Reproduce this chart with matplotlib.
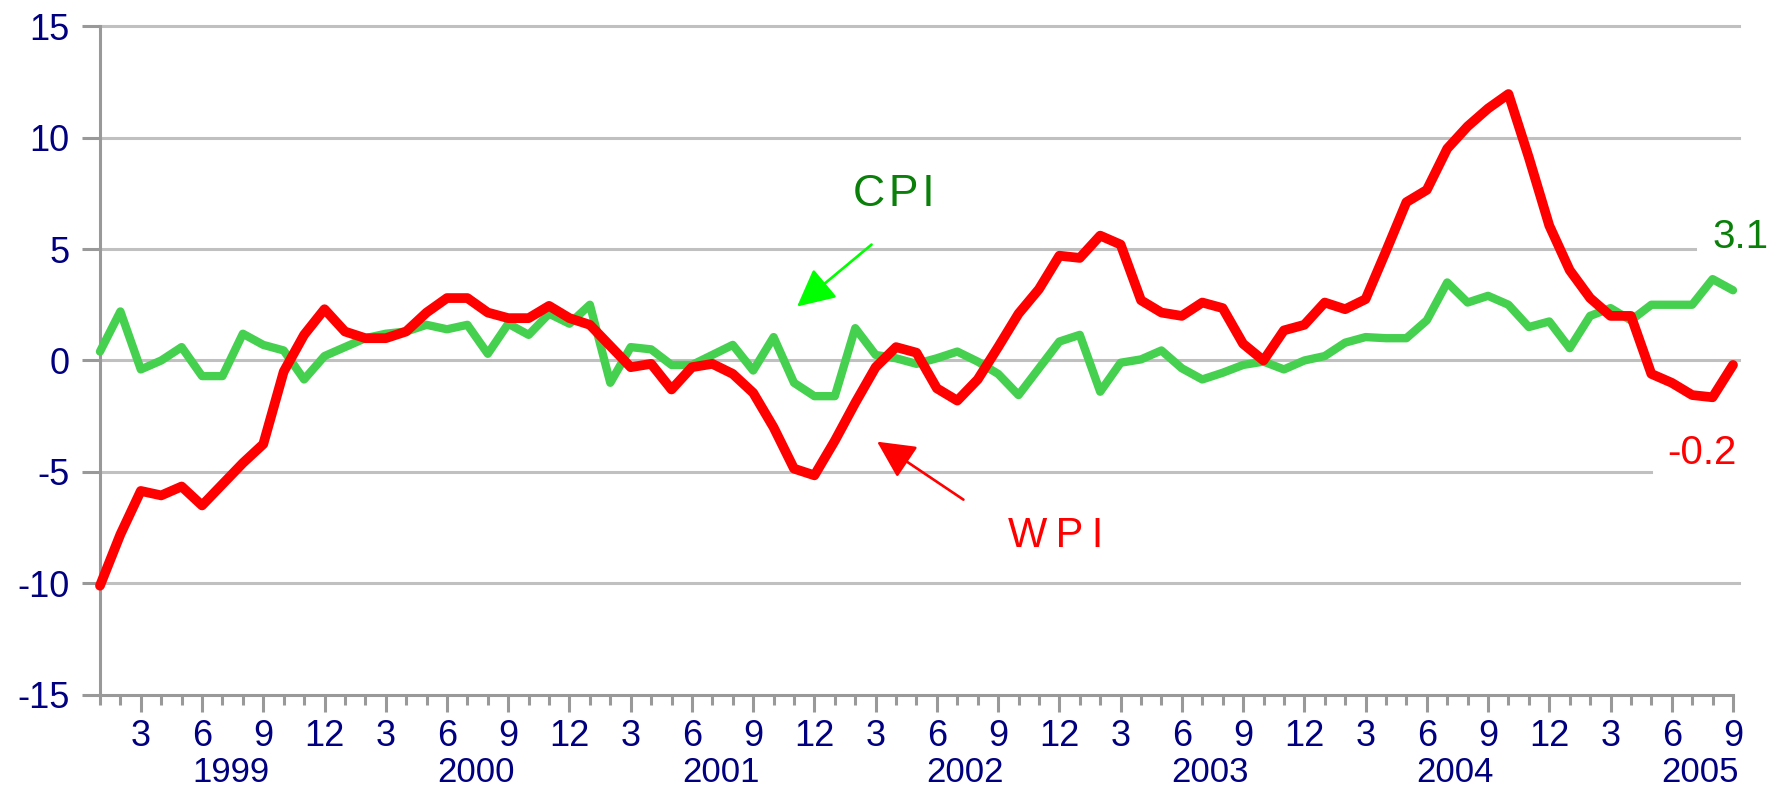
import numpy as np
import matplotlib
matplotlib.use("Agg")
import matplotlib.pyplot as plt

plt.rcParams['font.family'] = ['Liberation Sans', 'DejaVu Sans']

# monthly data, Jan 1999 - Sep 2005 (y/y %)
years = [1999, 2000, 2001, 2002, 2003, 2004, 2005]
wpi = [-10.1, -7.8, -5.85, -6.05, -5.65, -6.5, -5.55, -4.6, -3.75, -0.5, 1.15, 2.3,
       1.3, 1.0, 1.0, 1.3, 2.15, 2.8, 2.8, 2.15, 1.9, 1.9, 2.45, 1.9,
       1.6, 0.65, -0.3, -0.15, -1.3, -0.3, -0.15, -0.6, -1.45, -3.0, -4.85, -5.15,
       -3.6, -1.9, -0.3, 0.6, 0.35, -1.25, -1.8, -0.85, 0.6, 2.1, 3.2, 4.7,
       4.6, 5.6, 5.2, 2.7, 2.15, 2.0, 2.6, 2.35, 0.75, 0.0, 1.35, 1.6,
       2.6, 2.3, 2.75, 4.9, 7.1, 7.65, 9.5, 10.5, 11.3, 11.95, 9.1, 6.05,
       4.05, 2.8, 2.0, 2.0, -0.6, -1.0, -1.55, -1.65, -0.2]
cpi = [0.4, 2.2, -0.4, 0.0, 0.6, -0.7, -0.7, 1.2, 0.7, 0.45, -0.85, 0.2,
       0.6, 1.0, 1.2, 1.3, 1.6, 1.4, 1.6, 0.3, 1.65, 1.15, 2.1, 1.65,
       2.5, -1.0, 0.6, 0.5, -0.2, -0.2, 0.25, 0.7, -0.45, 1.05, -1.0, -1.6,
       -1.6, 1.45, 0.25, 0.1, -0.15, 0.1, 0.4, -0.05, -0.6, -1.55, -0.35, 0.85,
       1.15, -1.4, -0.1, 0.05, 0.45, -0.35, -0.85, -0.55, -0.2, -0.05, -0.4, 0.0,
       0.2, 0.8, 1.05, 1.0, 1.0, 1.8, 3.5, 2.6, 2.9, 2.5, 1.5, 1.75,
       0.55, 2.0, 2.35, 1.8, 2.5, 2.5, 2.5, 3.65, 3.15]
yticks = [15, 10, 5, 0, -5, -10, -15]

x = np.arange(len(wpi))
months = [(i % 12) + 1 for i in x]

navy = "#000080"
gray = "#999999"

fig = plt.figure(figsize=(17.82, 7.91), dpi=100)
ax = fig.add_axes([0.0561, 0.1214, 0.9164, 0.8457])

# gridlines (some cut short to make room for end labels)
grid_end = {15: 80.3, 10: 80.3, 5: 78.15, 0: 80.3, -5: 76.0, -10: 80.3}
for yv, xe in grid_end.items():
    ax.plot([0, xe], [yv, yv], color="#c0c0c0", lw=2.2, clip_on=False, zorder=1)

ax.plot(x, cpi, color="#45d04f", lw=6.0, solid_capstyle="round",
        solid_joinstyle="round", clip_on=False, zorder=3)
ax.plot(x, wpi, color="#ff0000", lw=7.0, solid_capstyle="round",
        solid_joinstyle="round", clip_on=False, zorder=4)

ax.set_xlim(0, 80)
ax.set_ylim(-15, 15)

for s in ["top", "right"]:
    ax.spines[s].set_visible(False)
for s in ["left", "bottom"]:
    ax.spines[s].set_color(gray)
    ax.spines[s].set_linewidth(2.2)

ax.set_yticks(yticks)
ax.set_yticklabels([str(v) for v in yticks])
ax.tick_params(axis="y", length=13, width=2.2, color=gray, pad=9,
               labelsize=26, labelcolor=navy)

major = [i for i in x if months[i] % 3 == 0]
ax.set_xticks(major)
ax.set_xticklabels([str(months[i]) for i in major])
ax.set_xticks(x, minor=True)
ax.tick_params(axis="x", which="major", length=12.2, width=2.2, color=gray,
               pad=5, labelsize=26, labelcolor=navy)
ax.tick_params(axis="x", which="minor", length=7.2, width=2.2, color=gray)

# year labels under month labels
for k, yr in enumerate(years):
    ax.text(12 * k + 6.4, -0.130, str(yr), transform=ax.get_xaxis_transform(),
            ha="center", va="baseline", fontsize=25, color=navy)

# series annotations
ax.text(38.9, 7.45, "C\u200aP\u200aI", ha="center", va="center", fontsize=32,
        color="#0a800a")
ax.annotate("", xy=(34.15, 2.42), xytext=(37.8, 5.2),
            arrowprops=dict(arrowstyle="-|>,head_length=0.4,head_width=0.2",
                            mutation_scale=58, color="#00ff00", lw=1.9,
                            shrinkA=0, shrinkB=0))
ax.text(46.8, -7.86, "W\u2009P\u2009I", ha="center", va="center", fontsize=30,
        color="#ff0000")
ax.annotate("", xy=(38.07, -3.64), xytext=(42.3, -6.24),
            arrowprops=dict(arrowstyle="-|>,head_length=0.4,head_width=0.2",
                            mutation_scale=58, color="#ff0000", lw=1.9,
                            shrinkA=0, shrinkB=0))

ax.text(79.0, 5.03, "3.1", ha="left", va="baseline", fontsize=29, color="#0a800a")
ax.text(76.8, -4.63, "-0.2", ha="left", va="baseline", fontsize=29, color="#ff0000")

fig.savefig("out.png", dpi=100)
